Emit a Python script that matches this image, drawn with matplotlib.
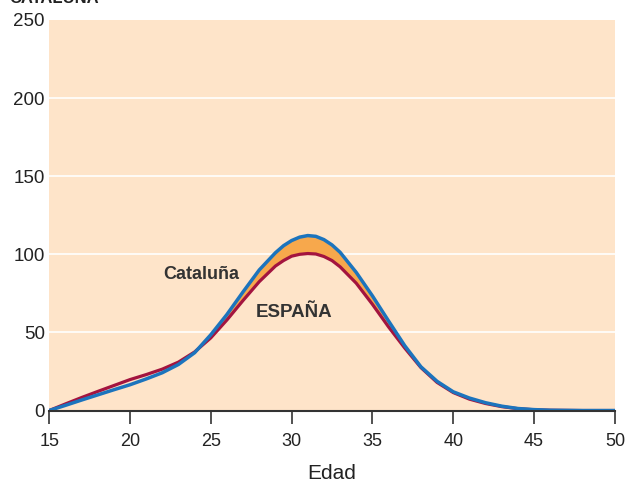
import matplotlib
matplotlib.use("Agg")
import matplotlib.pyplot as plt
import numpy as np

# edades y tasas
edad = [15, 16, 17, 18, 19, 20, 21, 22, 23, 24, 25, 26, 27, 28, 29, 29.5, 30, 30.5, 31, 31.5, 32, 32.5,
        33, 34, 35, 36, 37, 38, 39, 40, 41, 42, 43, 44, 45, 46, 47, 48, 49, 50]
espana = [0, 4.2, 8.3, 12.2, 16, 19.8, 23, 26.5, 31, 37.5, 46.5, 58, 70.5, 82.5, 92.5, 96, 98.8, 100, 100.5, 100.2, 98.6, 96,
          92, 81.5, 68, 53.5, 40, 27.5, 18, 11.5, 7.3, 4.5, 2.5, 1.2, 0.5, 0.2, 0.1, 0, 0, 0]
cataluna = [0, 3.3, 6.7, 10, 13.3, 16.5, 20.2, 24.2, 29.5, 37, 48.5, 61.5, 76, 90, 101, 105.5, 108.8, 111, 112, 111.5, 109.4, 106,
            101.3, 88.4, 73.4, 57.3, 41.5, 28, 18.7, 12, 8, 5, 2.8, 1.3, 0.6, 0.2, 0.1, 0, 0, 0]
xticks = [15, 20, 25, 30, 35, 40, 45, 50]
yticks = [0, 50, 100, 150, 200, 250]

plt.rcParams['font.family'] = ['Liberation Sans', 'DejaVu Sans']

fig = plt.figure(figsize=(6.3, 4.87), dpi=100)
ax = fig.add_axes([0.078, 0.157, 0.898, 0.802])
ax.set_facecolor("#fee4c9")

e = np.array(espana)
c = np.array(cataluna)
ax.fill_between(edad, e, c, where=c >= e, interpolate=True, color="#f7a84c", lw=0)
ax.plot(edad, e, color="#a3143f", lw=2.3, solid_joinstyle="round")
ax.plot(edad, c, color="#1c74bd", lw=2.5, solid_joinstyle="round")

for y in yticks[1:-1]:
    ax.axhline(y, color="white", lw=1.2, zorder=0.5)

ax.set_xlim(15, 50)
ax.set_ylim(0, 250)
ax.set_xticks(xticks)
ax.set_yticks(yticks)
ax.tick_params(axis="x", length=9, width=1.2, color="#333333", labelsize=13, pad=7, labelcolor="#222222")
ax.tick_params(axis="y", length=0, labelsize=13.5, pad=3, labelcolor="#222222")
for s in ["top", "right", "left"]:
    ax.spines[s].set_visible(False)
ax.spines["bottom"].set_color("#333333")
ax.spines["bottom"].set_linewidth(1.5)
ax.set_xlabel("Edad", fontsize=15, labelpad=10, color="#222222")

ax.text(22.05, 87, "Cataluña", fontsize=13, fontweight="bold", color="#333333", va="center")
ax.text(27.8, 63, "ESPAÑA", fontsize=13.5, fontweight="bold", color="#333333", va="center")

fig.text(0.015, 1 - 6 / 487, "CATALUÑA", fontsize=12, fontweight="bold", color="#222222", va="bottom")

fig.savefig("out.png", dpi=100)
